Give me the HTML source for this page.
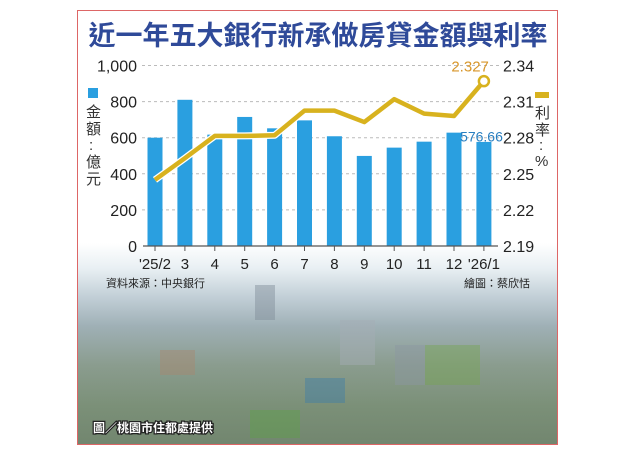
<!DOCTYPE html>
<html><head><meta charset="utf-8">
<style>
body{margin:0;background:#fff;width:640px;height:460px;overflow:hidden;font-family:"Liberation Sans","Noto Sans CJK TC",sans-serif;}
#frame{position:absolute;left:77px;top:10px;width:479px;height:433px;border:1px solid #d66;overflow:hidden;
background:linear-gradient(#fff 0px,#fff 232px,#e8eff3 258px,#c3d0d8 285px,#9fb0b6 315px,#8a9c8e 355px,#7b9078 395px,#72866f 433px);}
svg{position:absolute;left:0;top:0}
</style></head><body>
<div id="frame"></div>
<svg id="chart" width="640" height="460">
<g id="photo" opacity="0.45">
 <rect x="255" y="285" width="20" height="35" fill="#7f8c98"/>
 <rect x="340" y="320" width="35" height="45" fill="#a6aeb6"/>
 <rect x="395" y="345" width="35" height="40" fill="#8c97a2"/>
 <rect x="305" y="378" width="40" height="25" fill="#3f7ea8"/>
 <rect x="425" y="345" width="55" height="40" fill="#77a554"/>
 <rect x="250" y="410" width="50" height="28" fill="#5ea04a"/>
 <rect x="160" y="350" width="35" height="25" fill="#a88870"/>
</g>
<text x="318" y="45" text-anchor="middle" font-size="27" font-weight="bold" fill="#2f4a99">近一年五大銀行新承做房貸金額與利率</text>
<g id="grid"></g><g id="bars"></g><g id="axes"></g><g id="line"></g>
<rect x="88" y="88" width="10" height="10" fill="#2a9fe0"/>
<text font-size="15" fill="#333"><tspan x="86" y="117">金</tspan><tspan x="86" y="134">額</tspan><tspan x="89" y="150">:</tspan><tspan x="86" y="167">億</tspan><tspan x="86" y="184">元</tspan></text>
<rect x="535" y="92" width="14" height="6" fill="#d8b21e"/>
<text font-size="15" fill="#333"><tspan x="535" y="118">利</tspan><tspan x="535" y="135">率</tspan><tspan x="539" y="150">:</tspan><tspan x="535" y="166">%</tspan></text>
<text x="106" y="287" font-size="11" fill="#222">資料來源：中央銀行</text>
<text x="530" y="287" font-size="11" fill="#222" text-anchor="end">繪圖：蔡欣恬</text>
<text x="93" y="432" font-size="12" font-weight="bold" fill="#fff" stroke="#222" stroke-width="2.5" paint-order="stroke">圖／桃園市住都處提供</text>
</svg>
<script>
const categories=["'25/2","3","4","5","6","7","8","9","10","11","12","'26/1"];
const amounts=[600,810,617,715,652,696,608,499,545,578,628,576.66];
const rates=[2.245,2.263,2.2815,2.2815,2.282,2.3025,2.3025,2.293,2.312,2.300,2.298,2.327];
const leftTicks=[0,200,400,600,800,1000];
const leftTickLabels=["0","200","400","600","800","1,000"];
const rightTickLabels=["2.19","2.22","2.25","2.28","2.31","2.34"];
const NS="http://www.w3.org/2000/svg";
const x0=155,dx=29.9,yBase=246,yTop=65.5;
const xs=i=>x0+i*dx;
const yL=v=>yBase-(v/1000)*(yBase-yTop);
const yR=v=>yBase-((v-2.19)/0.15)*(yBase-yTop);
function mk(tag,attrs,parent){const e=document.createElementNS(NS,tag);for(const k in attrs)e.setAttribute(k,attrs[k]);document.getElementById(parent).appendChild(e);return e;}
leftTicks.forEach((t,i)=>{
 const y=yL(t);
 if(t>0){const g=mk('line',{x1:142,x2:500,y1:y,y2:y,stroke:'#bbb','stroke-dasharray':'3,3','stroke-width':1},'grid');
 
 }
 const l=mk('text',{x:137,y:y+6,'text-anchor':'end','font-size':16,fill:'#222'},'axes');l.textContent=leftTickLabels[i];
 
 
 const r=mk('text',{x:503,y:y+6,'font-size':16,fill:'#222'},'axes');r.textContent=rightTickLabels[i];
 
 
});
const base=mk('line',{x1:143,x2:498,y1:yBase,y2:yBase,stroke:'#555','stroke-width':1.2},'axes');


categories.forEach((c,i)=>{
 const b=mk('rect',{x:xs(i)-7.5,y:yL(amounts[i]),width:15,height:yBase-yL(amounts[i]),fill:'#2a9fe0'},'bars');
 
 
 const tk=mk('line',{x1:xs(i),x2:xs(i),y1:yBase,y2:yBase+5,stroke:'#555'},'axes');
 
 
 const t=mk('text',{x:xs(i),y:yBase+23,'text-anchor':'middle','font-size':15,fill:'#222'},'axes');t.textContent=c;
 
 
});
const pts=rates.map((r,i)=>xs(i)+','+yR(r)).join(' ');
const pl=mk('polyline',{points:pts,fill:'none',stroke:'#fff','stroke-width':7,'stroke-linejoin':'round'},'line');


const p2=mk('polyline',{points:pts,fill:'none',stroke:'#d8b21e','stroke-width':4.5,'stroke-linejoin':'round'},'line');


const n=rates.length-1;
const c=mk('circle',{cx:xs(n),cy:yR(rates[n]),r:5,fill:'#fff',stroke:'#d8b21e','stroke-width':2.5},'line');


const rl=mk('text',{x:xs(n)+5,y:yR(2.34)+6,'text-anchor':'end','font-size':15,fill:'#d8962a'},'line');rl.textContent=rates[n].toFixed(3);


const al=mk('text',{x:xs(n)+19,y:yL(600)+4,'text-anchor':'end','font-size':14,fill:'#2a7fc0'},'line');al.textContent=amounts[n].toFixed(2);


</script>
</body></html>
